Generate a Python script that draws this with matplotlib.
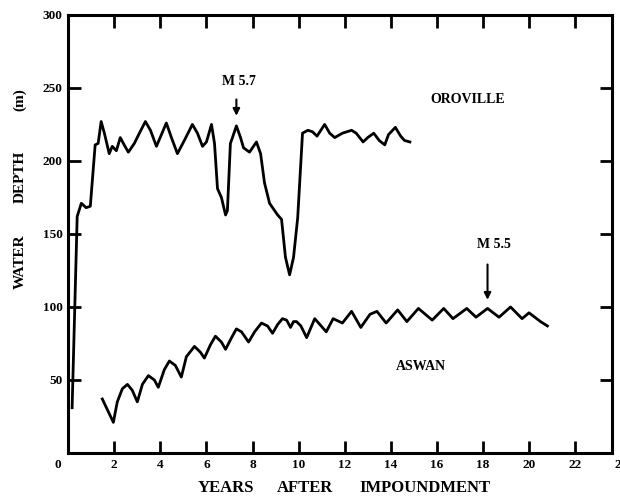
"""Water depth vs years after impoundment, Oroville and Aswan reservoirs."""
import matplotlib
matplotlib.use('Agg')
import matplotlib.pyplot as plt

# Oroville (years, depth m)
oro_x = [0.17, 0.39, 0.57, 0.78, 0.96, 1.17, 1.30, 1.43, 1.57, 1.78, 1.91, 2.09, 2.26,
         2.43, 2.61, 2.87, 3.09, 3.35, 3.57, 3.83, 4.26, 4.48, 4.74, 5.04, 5.39, 5.61,
         5.83, 6.00, 6.22, 6.35, 6.48, 6.65, 6.83, 6.91, 7.04, 7.13, 7.30, 7.48, 7.61,
         7.87, 8.17, 8.35, 8.52, 8.74, 9.09, 9.26, 9.43, 9.61, 9.78, 9.96, 10.17, 10.40,
         10.60, 10.80, 11.13, 11.35, 11.57, 11.90, 12.30, 12.50, 12.80, 13.00, 13.26,
         13.50, 13.74, 13.90, 14.20, 14.43, 14.60, 14.83]
oro_y = [31, 162, 171, 168, 169, 211, 212, 227, 219, 205, 210, 207, 216,
         211, 206, 212, 219, 227, 221, 210, 226, 216, 205, 214, 225, 219,
         210, 213, 225, 212, 181, 175, 163, 166, 212, 216, 224, 216, 209,
         206, 213, 205, 185, 171, 163, 160, 134, 122, 134, 161, 219, 221,
         220, 217, 225, 219, 216, 219, 221, 219, 213, 216, 219,
         214, 211, 218, 223, 217, 214, 213]

# Aswan
asw_x = [1.48, 1.96, 2.13, 2.35, 2.57, 2.78, 3.00, 3.22, 3.48, 3.74, 3.91, 4.17, 4.39,
         4.65, 4.91, 5.13, 5.48, 5.74, 5.91, 6.17, 6.39, 6.65, 6.83, 7.09, 7.30, 7.52,
         7.83, 8.09, 8.39, 8.65, 8.87, 9.09, 9.30, 9.48, 9.65, 9.78, 9.91, 10.10, 10.35,
         10.70, 11.20, 11.50, 11.90, 12.30, 12.70, 13.10, 13.40, 13.80, 14.30, 14.70,
         15.20, 15.80, 16.30, 16.70, 17.30, 17.70, 18.20, 18.70, 19.20, 19.70, 20.00,
         20.50, 20.80]
asw_y = [37, 21, 35, 44, 47, 43, 35, 47, 53, 50, 45, 57, 63,
         60, 52, 66, 73, 69, 65, 74, 80, 76, 71, 79, 85, 83,
         76, 83, 89, 87, 82, 88, 92, 91, 86, 90, 90, 87, 79,
         92, 83, 92, 89, 97, 86, 95, 97, 89, 98, 90,
         99, 91, 99, 92, 99, 93, 99, 93, 100, 92, 96,
         90, 87]

x_ticks = [2, 4, 6, 8, 10, 12, 14, 16, 18, 20, 22]
y_ticks = [50, 100, 150, 200, 250, 300]

font = {'family': 'Liberation Serif', 'weight': 'bold'}

fig = plt.figure(figsize=(6.2, 4.97), dpi=100)
ax = fig.add_axes([0.110, 0.0885, 0.877, 0.8815])
ax.plot(oro_x, oro_y, color='black', lw=2)
ax.plot(asw_x, asw_y, color='black', lw=2)

ax.set_xlim(0, 23.6)
ax.set_ylim(0, 300)
ax.set_xticks(x_ticks)
ax.set_yticks(y_ticks)
ax.set_xticklabels([str(v) for v in x_ticks], fontdict=font, fontsize=9.5)
ax.set_yticklabels([str(v) for v in y_ticks], fontdict=font, fontsize=9.5)
ax.tick_params(direction='in', length=9, width=2, top=True, right=True, pad=4)
for s in ax.spines.values():
    s.set_linewidth(2.2)

ax.text(-0.3, -4, '0', ha='right', va='top', fontsize=9.5, **font)
ax.text(24, -4, '24', ha='center', va='top', fontsize=9.5, clip_on=False, **font)

# earthquake annotations
ax.annotate('', xy=(7.3, 229), xytext=(7.3, 244),
            arrowprops=dict(arrowstyle='-|>', color='black', lw=1.5, mutation_scale=10))
ax.text(7.4, 250, 'M 5.7', ha='center', va='bottom', fontsize=10, **font)
ax.annotate('', xy=(18.2, 103), xytext=(18.2, 131),
            arrowprops=dict(arrowstyle='-|>', color='black', lw=1.5, mutation_scale=10))
ax.text(18.5, 138, 'M 5.5', ha='center', va='bottom', fontsize=10, **font)

ax.text(17.35, 242, 'OROVILLE', ha='center', va='center', fontsize=10, **font)
ax.text(15.3, 59, 'ASWAN', ha='center', va='center', fontsize=10, **font)

# axis titles, spread out as in the scan
fig.text(20 / 620, 1 - 262 / 497, 'WATER', rotation=90, ha='center', va='center',
         fontsize=11, **font)
fig.text(20 / 620, 1 - 177 / 497, 'DEPTH', rotation=90, ha='center', va='center',
         fontsize=11, **font)
fig.text(20 / 620, 1 - 100 / 497, '(m)', rotation=90, ha='center', va='center',
         fontsize=11, **font)
fig.text(226 / 620, 1 - 488 / 497, 'YEARS', ha='center', va='center', fontsize=12, **font)
fig.text(305 / 620, 1 - 488 / 497, 'AFTER', ha='center', va='center', fontsize=12, **font)
fig.text(425 / 620, 1 - 488 / 497, 'IMPOUNDMENT', ha='center', va='center',
         fontsize=12, **font)

fig.savefig('out.png', dpi=100)
